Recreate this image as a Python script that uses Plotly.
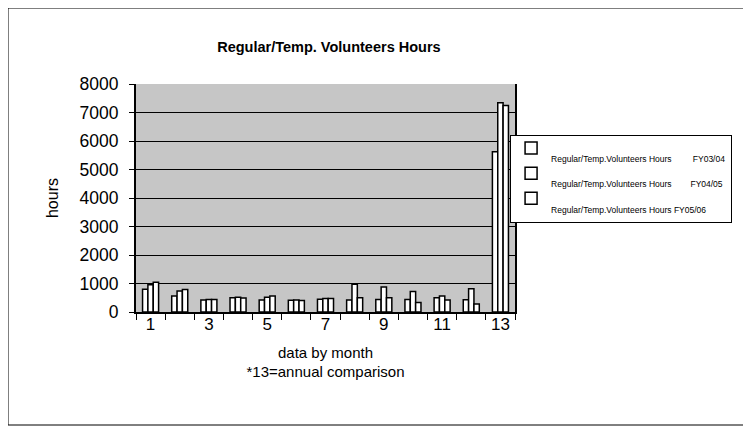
import plotly.graph_objects as go

months = list(range(1, 14))
fy0304 = [800, 560, 420, 500, 420, 410, 450, 420, 440, 440, 500, 430, 5620]
fy0405 = [960, 740, 440, 520, 520, 420, 470, 970, 880, 720, 560, 820, 7340]
fy0506 = [1040, 790, 440, 490, 560, 400, 470, 500, 500, 330, 420, 280, 7250]
series_names = [
    "Regular/Temp.Volunteers Hours\u00a0\u00a0\u00a0\u00a0\u00a0\u00a0\u00a0\u00a0\u00a0FY03/04",
    "Regular/Temp.Volunteers Hours\u00a0\u00a0\u00a0\u00a0\u00a0\u00a0\u00a0\u00a0FY04/05",
    "Regular/Temp.Volunteers Hours FY05/06",
]
tick_vals = [1, 3, 5, 7, 9, 11, 13]
y_ticks = [0, 1000, 2000, 3000, 4000, 5000, 6000, 7000, 8000]

fig = go.Figure()
for name, vals in zip(series_names, [fy0304, fy0405, fy0506]):
    fig.add_trace(go.Bar(
        x=months, y=vals, name="\u00a0<br>" + name,
        marker=dict(color="white", line=dict(color="black", width=1.5)),
    ))

# page body adds an 8px offset; margins compensate so the plot lands at x 136-515, y 84-312
fig.update_layout(
    width=751, height=434,
    margin=dict(l=128, r=244, t=76, b=130),
    paper_bgcolor="white",
    plot_bgcolor="#c6c6c6",
    barmode="group", bargap=0.45, bargroupgap=0,
    font=dict(family="Liberation Sans, Arial, sans-serif", color="black"),
    title=dict(text="<b>Regular/Temp. Volunteers Hours</b>", x=0.509, xanchor="center",
               xref="paper", y=(434 - 39) / 434, yanchor="middle", font=dict(size=14.5)),
    showlegend=True,
    legend=dict(x=0.987, xanchor="left", y=(312 - 135) / 228, yanchor="top",
                bgcolor="white", bordercolor="black", borderwidth=1,
                font=dict(size=8.5), valign="top", itemwidth=30,
                tracegroupgap=0),
    xaxis=dict(range=[0.5, 13.5], tickvals=tick_vals, ticktext=[str(v) for v in tick_vals],
               ticks="", tickfont=dict(size=17), showgrid=False, zeroline=False,
               ticklabelstandoff=-4,
               showline=True, linecolor="black", linewidth=1.5,
               minor=dict(tick0=0.5, dtick=1, ticks="outside", ticklen=6,
                          tickcolor="black", showgrid=False),
               title=dict(text="data by month<br>*13=annual comparison",
                          font=dict(size=15), standoff=14)),
    yaxis=dict(range=[0, 8000], tickvals=y_ticks, tickfont=dict(size=17.5),
               ticks="outside", ticklen=5, tickcolor="black", ticklabelstandoff=7,
               showgrid=True, gridcolor="black", gridwidth=1, zeroline=False,
               showline=True, linecolor="black", linewidth=2, mirror=True,
               title=dict(text="hours", font=dict(size=16), standoff=17)),
)

fig.add_shape(type="rect", xref="paper", yref="paper",
              x0=(8 - 136) / 379, x1=(746 - 136) / 379,
              y0=(312 - 425) / 228, y1=(312 - 8) / 228,
              line=dict(color="black", width=1), fillcolor="rgba(0,0,0,0)", layer="below")

fig.write_html("out.html")
